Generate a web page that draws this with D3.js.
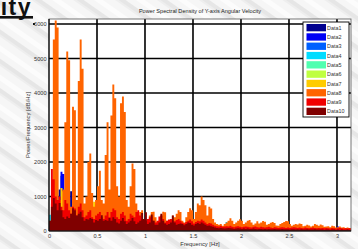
<!DOCTYPE html>
<html>
<head>
<meta charset="utf-8">
<script src="https://cdn.jsdelivr.net/npm/d3@7"></script>
<style>
  html, body { margin: 0; padding: 0; background: #f3f3f3; }
  svg { display: block; font-family: "Liberation Sans", Arial, sans-serif; }
</style>
</head>
<body>
<div class="svg-container"></div>
<script>
const seriesNames = ["Data1", "Data2", "Data3", "Data4", "Data5", "Data6", "Data7", "Data8", "Data9", "Data10"];
const seriesColors = ["#00008f", "#0000f5", "#0060ff", "#00dcff", "#50ffb0", "#bfff40", "#ffcc00", "#ff6400", "#f00000", "#800000"];
const xTicks = [0, 0.5, 1, 1.5, 2, 2.5, 3];
const yTicks = [0, 1000, 2000, 3000, 4000, 5000, 6000];
const binWidth = 0.02;

// sparse series: [frequency, power]
const data1 = [[0.08, 400], [0.10, 1200], [0.12, 1600], [0.14, 900], [0.22, 1150]];
const data2 = [[0.10, 1000], [0.12, 1720], [0.14, 1650], [0.16, 800], [0.92, 450], [1.64, 150], [3.0, 130]];
const data3 = [[0.02, 400], [0.88, 300]];
const data4 = [[0.00, 470], [0.02, 600], [0.08, 900], [1.84, 260], [1.86, 200]];
const data5 = [[0.00, 300]];
const data6 = [[0.48, 500]];
const data7 = [[0.10, 900], [0.12, 1250], [0.14, 1150], [0.44, 700], [0.46, 850], [0.48, 800]];

// dense series: one value per 0.02 Hz bin starting at 0
const data8 = [
  300, 800, 5550, 6100, 5900, 900, 600, 1200, 3150, 5200,
  4950, 700, 3600, 3500, 900, 4350, 5550, 4700, 800, 1000,
  2000, 2250, 1100, 700, 900, 1300, 1750, 900, 800, 2200,
  3150, 1200, 3350, 4250, 3850, 1300, 1000, 3700, 3900, 3450,
  900, 700, 1300, 1960, 1800, 800, 400, 550, 600, 350,
  300, 350, 450, 550, 560, 400, 250, 300, 450, 560,
  540, 300, 250, 350, 450, 400, 500, 600, 550, 300,
  250, 400, 550, 660, 600, 350, 550, 800, 750, 1000,
  900, 750, 450, 700, 650, 350, 250, 200, 180, 200,
  150, 200, 250, 300, 370, 300, 200, 250, 300, 340,
  300, 200, 250, 300, 320, 250, 180, 220, 280, 220,
  250, 290, 270, 180, 200, 240, 260, 230, 160, 150,
  200, 230, 260, 290, 280, 200, 150, 180, 200, 190,
  220, 200, 140, 150, 180, 160, 130, 150, 200, 180,
  150, 190, 170, 120, 130, 140, 110, 150, 140, 100,
  110, 130, 100, 110, 90, 100, 90, 80
];
const data9 = [
  200, 1800, 1500, 1000, 900, 1000, 700, 600, 900, 800,
  600, 500, 700, 650, 450, 700, 800, 600, 400, 450,
  550, 600, 400, 350, 450, 500, 550, 400, 350, 450,
  550, 400, 550, 650, 600, 400, 350, 500, 550, 450,
  300, 350, 500, 450, 400, 550, 600, 450, 350, 250,
  280, 350, 400, 420, 300, 250, 300, 420, 450, 350,
  250, 300, 330, 350, 300, 280, 320, 350, 300, 250,
  220, 260, 300, 330, 280, 220, 260, 300, 280, 330,
  300, 250, 200, 230, 220, 180, 150, 140, 130, 150,
  120, 130, 140, 130, 150, 120, 110, 130, 140, 120,
  110, 120, 130, 120, 110, 100, 120, 130, 110, 100,
  120, 110, 100, 110, 120, 100, 90, 110, 100, 90,
  100, 110, 100, 90, 100, 90, 100, 110, 100, 90,
  100, 90, 80, 100, 90, 80, 90, 100, 90, 80,
  90, 80, 90, 80, 90, 80, 70, 90, 80, 70,
  80, 90, 80, 70, 80, 70, 80, 70
];
const data10 = [
  300, 700, 960, 800, 600, 810, 600, 400, 350, 420,
  380, 500, 660, 600, 450, 500, 560, 400, 300, 350,
  330, 380, 350, 250, 320, 300, 350, 460, 300, 320,
  300, 380, 300, 400, 350, 250, 220, 300, 380, 280,
  200, 250, 300, 380, 280, 200, 250, 300, 520, 350,
  540, 200, 250, 480, 300, 180, 180, 250, 500, 300,
  220, 180, 200, 250, 450, 250, 180, 200, 220, 200,
  170, 200, 250, 230, 180, 160, 200, 230, 200, 250,
  220, 180, 150, 160, 140, 120, 100, 90, 80, 90,
  80, 70, 80, 90, 80, 70, 60, 70, 80, 70,
  60, 70, 60, 70, 60, 60, 70, 60, 50, 60,
  60, 50, 60, 50, 60, 50, 50, 60, 50, 50,
  50, 60, 50, 50, 50, 40, 50, 50, 40, 50,
  40, 50, 40, 40, 50, 40, 40, 40, 50, 40,
  40, 40, 40, 30, 40, 40, 30, 40, 40, 30,
  40, 30, 40, 30, 30, 40, 30, 30
];

const width = 358, height = 249;
const plot = { left: 49, right: 351, top: 19, bottom: 231 };

const x = d3.scaleLinear([0, 3.146], [plot.left, plot.right]);
const y = d3.scaleLinear([0, 6145], [plot.bottom, plot.top]);

const toPairs = (vals) => vals.map((v, i) => [i * binWidth, v]);
const series = [data1, data2, data3, data4, data5, data6, data7,
  toPairs(data8), toPairs(data9), toPairs(data10)];

// step points, closing back to zero across gaps
function stepPoints(pairs) {
  const pts = [];
  pairs.forEach((p, i) => {
    pts.push(p);
    const next = pairs[i + 1];
    const end = p[0] + binWidth;
    if (!next || Math.abs(next[0] - end) > 1e-6) pts.push([end, 0]);
  });
  return pts;
}

const svg = d3.select("div.svg-container")
  .append("svg")
  .attr("width", width)
  .attr("height", height);

const defs = svg.append("defs");
const pat = defs.append("pattern")
  .attr("id", "stripes")
  .attr("patternUnits", "userSpaceOnUse")
  .attr("width", 24).attr("height", 24)
  .attr("patternTransform", "rotate(35)");
pat.append("rect").attr("width", 24).attr("height", 24).attr("fill", "#f6f6f6");
pat.append("rect").attr("width", 24).attr("height", 4).attr("fill", "#e6e6e6");
pat.append("rect").attr("y", 4).attr("width", 24).attr("height", 2).attr("fill", "#eeeeee");
pat.append("rect").attr("y", 13).attr("width", 24).attr("height", 5).attr("fill", "#fcfcfc");

defs.append("clipPath").attr("id", "clip")
  .append("rect")
  .attr("x", plot.left).attr("y", plot.top)
  .attr("width", plot.right - plot.left)
  .attr("height", plot.bottom - plot.top);

svg.append("rect").attr("width", width).attr("height", height).attr("fill", "url(#stripes)");

// cut-off heading from the page behind
svg.append("text")
  .attr("x", 32).attr("y", 14.5)
  .attr("text-anchor", "end")
  .attr("font-size", 23).attr("font-weight", "bold")
  .attr("letter-spacing", 1.5)
  .attr("fill", "#111")
  .text("ity");
svg.append("rect").attr("x", 0).attr("y", 16).attr("width", 33).attr("height", 2.6).attr("fill", "#111");
svg.append("rect").attr("x", 33).attr("y", 23).attr("width", 2).attr("height", 2).attr("fill", "#111");

// plot background
svg.append("rect")
  .attr("x", plot.left).attr("y", plot.top)
  .attr("width", plot.right - plot.left)
  .attr("height", plot.bottom - plot.top)
  .attr("fill", "#fff");

// grid
const grid = svg.append("g").attr("stroke", "#000").attr("stroke-width", 1.6);
grid.selectAll("line.v")
  .data(xTicks.slice(1))
  .join("line")
  .attr("x1", (d) => x(d)).attr("x2", (d) => x(d))
  .attr("y1", plot.top).attr("y2", plot.bottom);
grid.selectAll("line.h")
  .data(yTicks.slice(1))
  .join("line")
  .attr("y1", (d) => y(d)).attr("y2", (d) => y(d))
  .attr("x1", plot.left).attr("x2", plot.right);

// spectra
const area = d3.area()
  .curve(d3.curveStepAfter)
  .x((d) => x(d[0]))
  .y0(y(0))
  .y1((d) => y(d[1]));

svg.append("g")
  .attr("clip-path", "url(#clip)")
  .selectAll("path")
  .data(series)
  .join("path")
  .attr("fill", (d, i) => seriesColors[i])
  .attr("d", (d) => area(stepPoints(d)));

// frame
svg.append("rect")
  .attr("x", plot.left).attr("y", plot.top)
  .attr("width", plot.right - plot.left)
  .attr("height", plot.bottom - plot.top)
  .attr("fill", "none")
  .attr("stroke", "#555").attr("stroke-width", 0.8);
svg.append("line")
  .attr("x1", plot.left).attr("x2", plot.left)
  .attr("y1", plot.top).attr("y2", plot.bottom)
  .attr("stroke", "#000").attr("stroke-width", 1.2);
svg.append("line")
  .attr("x1", plot.left).attr("x2", plot.right)
  .attr("y1", plot.bottom).attr("y2", plot.bottom)
  .attr("stroke", "#000").attr("stroke-width", 1.2);

// axes
const xAxis = svg.append("g")
  .attr("transform", `translate(0,${plot.bottom})`)
  .call(d3.axisBottom(x).tickValues(xTicks).tickSize(0).tickPadding(3).tickFormat(d3.format("")));
const yAxis = svg.append("g")
  .attr("transform", `translate(${plot.left},0)`)
  .call(d3.axisLeft(y).tickValues(yTicks).tickSize(0).tickPadding(2.5).tickFormat(d3.format("")));
[xAxis, yAxis].forEach((g) => {
  g.select(".domain").remove();
  g.selectAll("text")
    .attr("font-family", "Liberation Sans, Arial, sans-serif")
    .attr("font-size", 5.6)
    .attr("fill", "#333");
});

// labels
svg.append("text")
  .attr("x", 200).attr("y", 13)
  .attr("text-anchor", "middle")
  .attr("font-size", 5.6).attr("fill", "#222")
  .text("Power Spectral Density of Y-axis Angular Velocity");
svg.append("text")
  .attr("x", 200).attr("y", 246)
  .attr("text-anchor", "middle")
  .attr("font-size", 5.8).attr("fill", "#333")
  .text("Frequency [Hz]");
svg.append("text")
  .attr("transform", `translate(30,${(plot.top + plot.bottom) / 2}) rotate(-90)`)
  .attr("text-anchor", "middle")
  .attr("font-size", 5.8).attr("fill", "#333")
  .text("Power/Frequency [dB/Hz]");

// legend
const legend = svg.append("g").attr("transform", "translate(303,22)");
legend.append("rect")
  .attr("width", 46).attr("height", 95)
  .attr("fill", "#fff").attr("stroke", "#000").attr("stroke-width", 0.9);
const row = legend.selectAll("g")
  .data(seriesNames)
  .join("g")
  .attr("transform", (d, i) => `translate(0,${2 + i * 9.3})`);
row.append("rect")
  .attr("x", 3.5).attr("width", 19.5).attr("height", 7.3)
  .attr("fill", (d, i) => seriesColors[i]);
row.append("text")
  .attr("x", 24).attr("y", 5.8)
  .attr("font-size", 5.4).attr("fill", "#333")
  .text((d) => d);
</script>
</body>
</html>
